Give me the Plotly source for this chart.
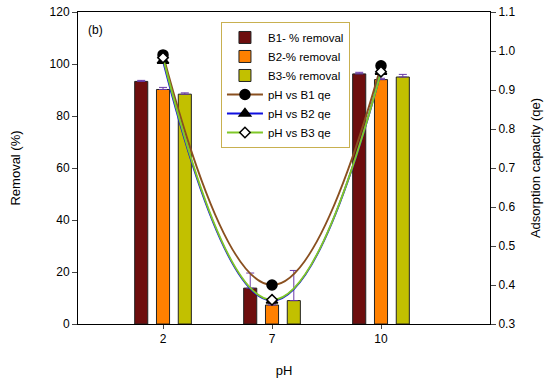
import plotly.graph_objects as go

ph_labels = ["2", "7", "10"]
xpos = [0, 1, 2]

b1_removal = [93.3, 13.8, 96.2]
b2_removal = [90.2, 7.3, 94.0]
b3_removal = [88.4, 9.0, 95.0]
b1_err = [0.4, 5.8, 0.6]
b2_err = [0.8, 0.5, 0.5]
b3_err = [0.5, 11.6, 1.0]

b1_qe = [0.99, 0.40, 0.962]
b2_qe = [0.975, 0.36, 0.947]
b3_qe = [0.983, 0.362, 0.947]

fig = go.Figure()

bar_specs = [
    ("B1- % removal", b1_removal, b1_err, "#6E0E0E", -0.26),
    ("B2-% removal", b2_removal, b2_err, "#FF8000", -0.06),
    ("B3-% removal", b3_removal, b3_err, "#C2C000", 0.14),
]
for name, vals, err, col, off in bar_specs:
    fig.add_trace(go.Bar(
        x=xpos, y=vals, name=name, width=0.12, offset=off,
        marker=dict(color=col, line=dict(color="#222222", width=1)),
        error_y=dict(type="data", array=err, arrayminus=[0, 0, 0], symmetric=False,
                     color="#6A3AA8", thickness=1, width=4),
        yaxis="y",
    ))

line_specs = [
    ("pH vs B1 qe", b1_qe, "#8A5020", "circle", "black", 10),
    ("pH vs B2 qe", b2_qe, "#1010E0", "triangle-up", "black", 10),
    ("pH vs B3 qe", b3_qe, "#80C828", "diamond", "white", 8),
]
for name, vals, col, sym, fill, size in line_specs:
    fig.add_trace(go.Scatter(
        x=xpos, y=vals, name=name, mode="lines+markers",
        line=dict(color=col, width=2, shape="spline", smoothing=1.3),
        marker=dict(symbol=sym, color=fill, size=size, line=dict(color="black", width=1.5)),
        yaxis="y2",
    ))

fig.update_layout(
    width=550, height=385,
    margin=dict(l=78, r=60, t=12, b=61),
    paper_bgcolor="white", plot_bgcolor="white",
    font=dict(family="Liberation Sans, Arial", size=12, color="black"),
    barmode="overlay",
    showlegend=True,
    legend=dict(x=0.347, y=0.968, xanchor="left", yanchor="top",
                bordercolor="#C8B050", borderwidth=1, bgcolor="white",
                font=dict(size=11.5), tracegroupgap=0, itemwidth=36),
    xaxis=dict(range=[-0.78, 3.0], tickvals=xpos, ticktext=ph_labels,
               showline=True, linecolor="black", linewidth=1, mirror=True,
               ticks="outside", ticklen=4, showgrid=False, zeroline=False,
               automargin=False,
               title=dict(text="pH", font=dict(size=13), standoff=20)),
    yaxis=dict(range=[0, 120], tickvals=[0, 20, 40, 60, 80, 100, 120],
               showline=True, linecolor="black", linewidth=1,
               ticks="outside", ticklen=5, showgrid=False, zeroline=False,
               automargin=False,
               title=dict(text="Removal (%)", font=dict(size=13), standoff=26)),
    yaxis2=dict(range=[0.3, 1.1], tickvals=[0.3, 0.4, 0.5, 0.6, 0.7, 0.8, 0.9, 1.0, 1.1],
                ticktext=["0.3", "0.4", "0.5", "0.6", "0.7", "0.8", "0.9", "1.0", "1.1"],
                overlaying="y", side="right",
                showline=True, linecolor="black", linewidth=1,
                ticks="outside", ticklen=5, showgrid=False, zeroline=False,
                automargin=False,
                title=dict(text="Adsorption capacity (qe)", font=dict(size=13), standoff=16)),
    annotations=[dict(text="(b)", x=0.02, y=0.97, xref="paper", yref="paper",
                      xanchor="left", yanchor="top", showarrow=False, font=dict(size=12))],
)

fig.write_html("out.html", config={"displayModeBar": False},
               post_script="document.body.style.margin='0';document.body.style.overflow='hidden';")
